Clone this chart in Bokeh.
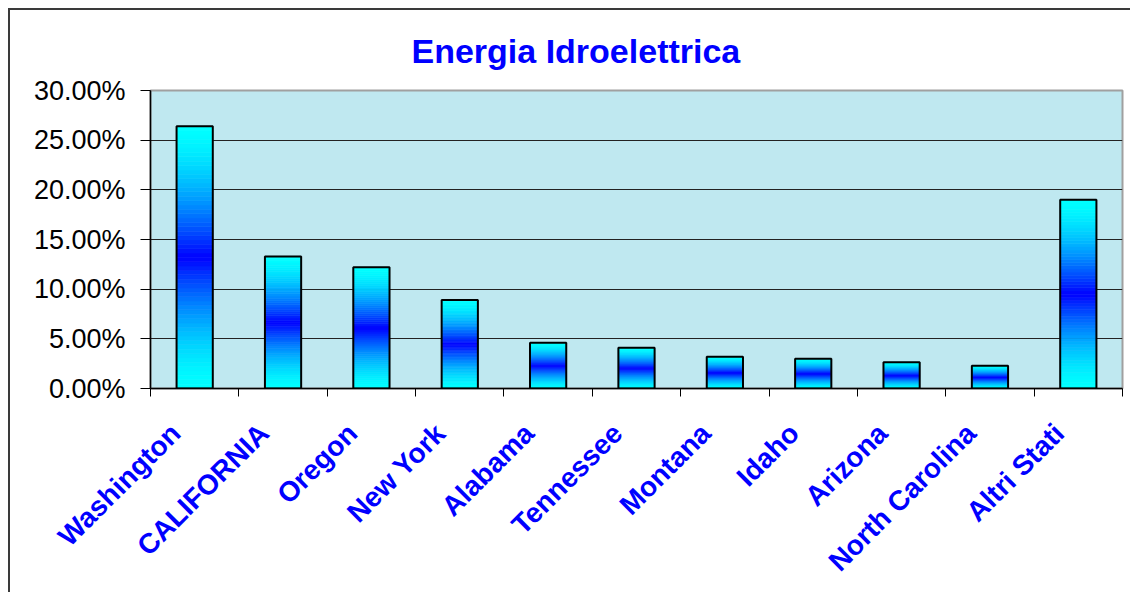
import numpy as np
from bokeh.plotting import figure
from bokeh.models import (ColumnDataSource, FixedTicker, NumeralTickFormatter,
                          CustomJSTickFormatter, LinearAxis, Range1d)
from bokeh.embed import file_html
from bokeh.resources import INLINE

# ---- data -------------------------------------------------------------
title_text = "Energia Idroelettrica"
categories = ["Washington", "CALIFORNIA", "Oregon", "New York", "Alabama",
              "Tennessee", "Montana", "Idaho", "Arizona", "North Carolina",
              "Altri Stati"]
shares = [0.264, 0.133, 0.122, 0.089, 0.046, 0.041, 0.032, 0.030, 0.0265,
          0.023, 0.190]
y_ticks = [0.0, 0.05, 0.10, 0.15, 0.20, 0.25, 0.30]
y_max = 0.30

# ---- styling ------------------------------------------------------------
FONT = "Liberation Sans"
BAR_W = 0.41
N_STRIPS = 60
W, H = 1122, 584
BL, BR, BT, BB = 140, 10, 80, 206
LABEL_SHIFT_PX = 19

n = len(categories)
centers = [i + 0.5 for i in range(n)]
frame_w = W - BL - BR
shift = LABEL_SHIFT_PX / frame_w * n

p = figure(width=W, height=H, x_range=Range1d(0, n),
           y_range=Range1d(0, y_max), output_backend="svg",
           toolbar_location=None, min_border_left=BL, min_border_right=BR,
           min_border_top=BT, min_border_bottom=BB)
p.styles = {"margin-left": "8px", "margin-top": "8px",
            "border-left": "2px solid #3a3a3a",
            "border-top": "2px solid #3a3a3a"}
p.extra_x_ranges = {"lab": Range1d(shift, n + shift)}

p.background_fill_color = "#bfe8f0"
p.border_fill_color = "white"
p.outline_line_color = "#a0a0a0"
p.outline_line_width = 2

# title
p.title.text = title_text
p.title.align = "left"
p.title.vertical_align = "top"
p.title.offset = 261
p.title.standoff = 38
p.title.text_font = FONT
p.title.text_font_style = "bold"
p.title.text_font_size = "34px"
p.title.text_color = "#0000ff"

# gradient bars: strips built from each bar's value
lefts, rights, bottoms, tops, colors = [], [], [], [], []
for c, v in zip(centers, shares):
    for j in range(N_STRIPS):
        t = (j + 0.5) / N_STRIPS
        s = (1 - abs(2 * t - 1)) ** 1.6
        g = int(round(255 * (1 - s)))
        lefts.append(c - BAR_W / 2)
        rights.append(c + BAR_W / 2)
        bottoms.append(v * j / N_STRIPS)
        tops.append(v * (j + 1) / N_STRIPS)
        colors.append("#%02x%02x%02x" % (0, g, 255))
strip_src = ColumnDataSource(dict(left=lefts, right=rights, bottom=bottoms,
                                  top=tops, color=colors))
p.quad(left="left", right="right", bottom="bottom", top="top",
       fill_color="color", line_color="color", line_width=0.6,
       source=strip_src)

bar_src = ColumnDataSource(dict(x=centers, top=shares,
                                left=[c - BAR_W / 2 for c in centers],
                                right=[c + BAR_W / 2 for c in centers],
                                bottom=[0] * n))
p.quad(left="left", right="right", bottom="bottom", top="top",
       fill_color=None, line_color="black", line_width=2, source=bar_src)

# x axis: ticks between categories, no labels
p.xaxis.ticker = FixedTicker(ticks=list(range(n + 1)))
p.xaxis.formatter = CustomJSTickFormatter(code="return '';")
p.xaxis.major_label_standoff = 0
p.xaxis.major_label_text_font_size = "2px"
p.xaxis.major_tick_out = 8
p.xaxis.major_tick_in = 0
p.xaxis.minor_tick_line_color = None
p.xaxis.axis_line_color = "black"
p.xaxis.axis_line_width = 1.5
p.xaxis.major_tick_line_color = "black"

# category label axis
lab_axis = LinearAxis(
    x_range_name="lab", ticker=FixedTicker(ticks=centers),
    formatter=CustomJSTickFormatter(args=dict(cats=categories),
                                    code="return cats[Math.floor(tick)];"),
    major_label_orientation=np.pi / 4, major_tick_out=0, major_tick_in=0,
    axis_line_color=None, major_tick_line_color=None,
    minor_tick_line_color=None, major_label_standoff=32,
    major_label_text_font=FONT, major_label_text_font_style="bold",
    major_label_text_font_size="28px", major_label_text_color="#0000ff")
p.add_layout(lab_axis, "below")

# y axis
p.yaxis.ticker = FixedTicker(ticks=y_ticks)
p.yaxis.formatter = NumeralTickFormatter(format="0.00%")
p.yaxis.major_label_text_font = FONT
p.yaxis.major_label_text_font_size = "27px"
p.yaxis.major_label_text_color = "black"
p.yaxis.major_tick_out = 10
p.yaxis.major_tick_in = 0
p.yaxis.major_label_standoff = 15
p.yaxis.minor_tick_line_color = None
p.yaxis.axis_line_color = "black"
p.yaxis.axis_line_width = 1.5
p.yaxis.major_tick_line_color = "black"

p.xgrid.visible = False
p.ygrid.ticker = FixedTicker(ticks=y_ticks)
p.ygrid.grid_line_color = "#222222"
p.ygrid.grid_line_width = 1

open("out.html", "w").write(file_html(p, INLINE))
